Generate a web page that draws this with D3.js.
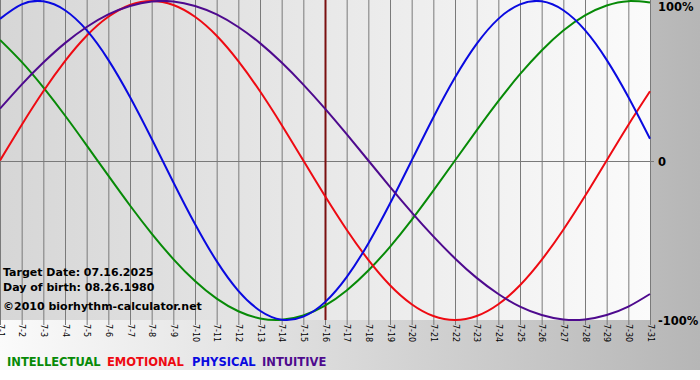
<!DOCTYPE html>
<html>
<head>
<meta charset="utf-8">
<script src="https://cdn.jsdelivr.net/npm/d3@7"></script>
<style>
    body { margin: 0; background: #fff; }
    text { font-family: "DejaVu Sans", Verdana, sans-serif; }
    .info { font-size: 11px; font-weight: bold; fill: #000; }
    .pct { font-size: 11.5px; font-weight: bold; fill: #000; }
    .day { font-size: 8px; fill: #000; }
    .leg { font-size: 11.5px; font-weight: bold; }
</style>
</head>
<body>
<script>

    // days shown (July 2025)
    var days = d3.range(1, 32);
    var dayLabels = days.map(function(d) { return "7-" + d; });

    // daily biorhythm values, -1 .. 1
    var intellectual = [0.756, 0.618, 0.458, 0.282, 0.095, -0.095, -0.282, -0.458, -0.618, -0.756,
        -0.866, -0.945, -0.990, -0.999, -0.972, -0.910, -0.815, -0.690, -0.541, -0.372,
        -0.189, 0.000, 0.189, 0.372, 0.541, 0.690, 0.815, 0.910, 0.972, 0.999, 0.990];
    var emotional = [0.000, 0.223, 0.434, 0.623, 0.782, 0.901, 0.975, 1.000, 0.975, 0.901,
        0.782, 0.623, 0.434, 0.223, 0.000, -0.223, -0.434, -0.623, -0.782, -0.901,
        -0.975, -1.000, -0.975, -0.901, -0.782, -0.623, -0.434, -0.223, 0.000, 0.223, 0.434];
    var physical = [0.888, 0.979, 0.998, 0.942, 0.817, 0.631, 0.398, 0.136, -0.136, -0.398,
        -0.631, -0.817, -0.942, -0.998, -0.979, -0.888, -0.731, -0.520, -0.270, 0.000,
        0.270, 0.520, 0.731, 0.888, 0.979, 0.998, 0.942, 0.817, 0.631, 0.398, 0.136];
    var intuitive = [0.325, 0.476, 0.614, 0.736, 0.837, 0.916, 0.969, 0.997, 0.997, 0.969,
        0.916, 0.837, 0.736, 0.614, 0.476, 0.325, 0.165, 0.000, -0.165, -0.325,
        -0.476, -0.614, -0.736, -0.837, -0.916, -0.969, -0.997, -0.997, -0.969, -0.916, -0.837];

    var seriesNames = ["INTELLECTUAL", "EMOTIONAL", "PHYSICAL", "INTUITIVE"];
    var seriesColors = ["#078a07", "#ee0a12", "#0a0ae0", "#4e0a8e"];
    var seriesValues = [intellectual, emotional, physical, intuitive];
    var legendX = [7, 107, 192, 262];

    var targetDay = 16;
    var infoLines = ["Target Date: 07.16.2025", "Day of birth: 08.26.1980", "\u00a92010 biorhythm-calculator.net"];
    var pctTicks = [1, 0, -1];
    var pctLabels = ["100%", "0", "-100%"];

    var width = 700, height = 370;
    var plotW = 650, plotTop = 1, plotBottom = 320;

    var x = d3.scaleLinear().domain([1, 31]).range([0, plotW]);
    var y = d3.scaleLinear().domain([-1, 1]).range([plotBottom, plotTop]);

    var svg = d3.select("body").append("svg")
        .attr("width", width)
        .attr("height", height);

    var defs = svg.append("defs");
    var bg = defs.append("linearGradient").attr("id", "bg");
    bg.append("stop").attr("offset", "0%").attr("stop-color", "#fbfbfb");
    bg.append("stop").attr("offset", "100%").attr("stop-color", "#b6b6b6");
    var pg = defs.append("linearGradient").attr("id", "pg");
    pg.append("stop").attr("offset", "0%").attr("stop-color", "#d6d6d6");
    pg.append("stop").attr("offset", "100%").attr("stop-color", "#fbfbfb");

    svg.append("rect").attr("width", width).attr("height", height).attr("fill", "url(#bg)");
    svg.append("rect").attr("x", 0).attr("y", 0)
        .attr("width", plotW).attr("height", plotBottom)
        .attr("fill", "url(#pg)");

    // day grid with tick marks below the plot
    svg.append("g")
        .selectAll("line")
        .data(days)
        .enter().append("line")
        .attr("x1", function(d) { return x(d) + 0.5; })
        .attr("x2", function(d) { return x(d) + 0.5; })
        .attr("y1", 0)
        .attr("y2", plotBottom + 5)
        .attr("stroke", "#7a7a7a")
        .attr("stroke-width", 1);

    // zero line
    svg.append("line")
        .attr("x1", 0).attr("x2", plotW + 4)
        .attr("y1", Math.round(y(0)) + 0.5).attr("y2", Math.round(y(0)) + 0.5)
        .attr("stroke", "#7a7a7a");

    // day labels
    svg.append("g")
        .selectAll("text")
        .data(days)
        .enter().append("text")
        .attr("class", "day")
        .attr("transform", function(d) { return "translate(" + (x(d) + 0.5) + "," + (plotBottom + 4) + ") rotate(90)"; })
        .attr("dy", "0.35em")
        .text(function(d, i) { return dayLabels[i]; });

    // percent labels
    svg.append("g")
        .selectAll("text")
        .data(pctTicks)
        .enter().append("text")
        .attr("class", "pct")
        .attr("x", 658)
        .attr("y", function(d) { return Math.max(7, y(d) + 1); })
        .attr("dy", "0.36em")
        .text(function(d, i) { return pctLabels[i]; });

    // info text
    svg.append("g")
        .selectAll("text")
        .data(infoLines)
        .enter().append("text")
        .attr("class", "info")
        .attr("x", 3)
        .attr("y", function(d, i) { return [276, 291, 310][i]; })
        .text(function(d) { return d; });

    // target day marker
    svg.append("line")
        .attr("x1", x(targetDay) + 0.5).attr("x2", x(targetDay) + 0.5)
        .attr("y1", 0).attr("y2", plotBottom)
        .attr("stroke", "#7a1010")
        .attr("stroke-width", 2);

    // curves
    var line = d3.line()
        .x(function(d, i) { return x(days[i]); })
        .y(function(d) { return y(d); })
        .curve(d3.curveNatural);

    svg.append("g")
        .selectAll("path")
        .data(seriesValues)
        .enter().append("path")
        .attr("d", line)
        .attr("fill", "none")
        .attr("stroke", function(d, i) { return seriesColors[i]; })
        .attr("stroke-width", 2);

    // legend
    svg.append("g")
        .selectAll("text")
        .data(seriesNames)
        .enter().append("text")
        .attr("class", "leg")
        .attr("x", function(d, i) { return legendX[i]; })
        .attr("y", 366)
        .attr("fill", function(d, i) { return seriesColors[i]; })
        .text(function(d) { return d; });

</script>
</body>
</html>
